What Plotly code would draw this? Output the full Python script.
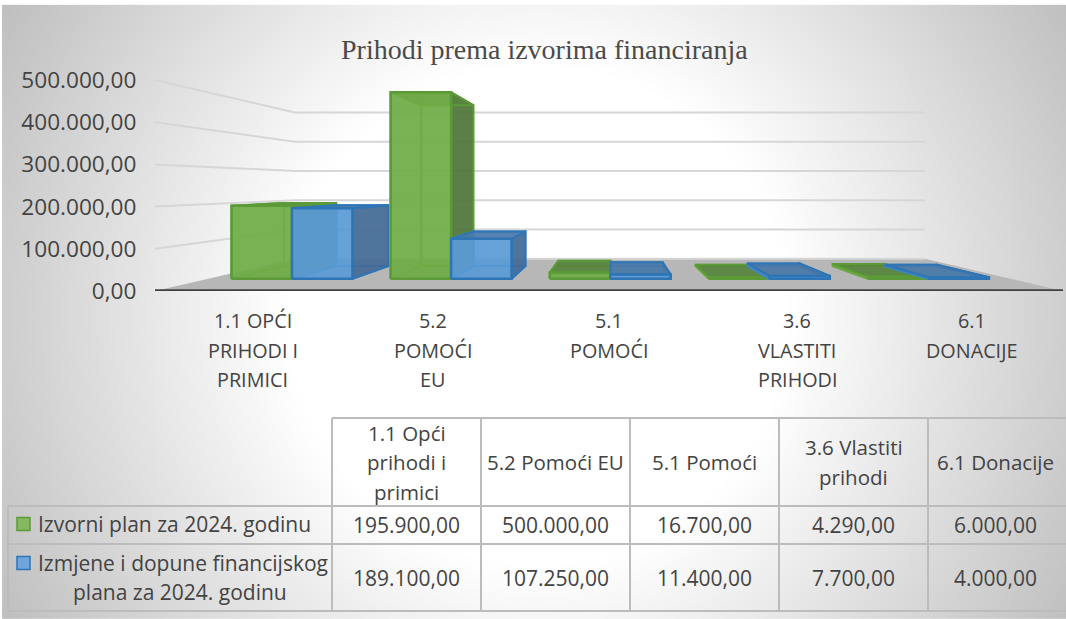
import numpy as np
import plotly.graph_objects as go

# ---- data ----
title = "Prihodi prema izvorima financiranja"
series_names = ["Izvorni plan za 2024. godinu", "Izmjene i dopune financijskog plana za 2024. godinu"]
plan_2024 = [195900, 500000, 16700, 4290, 6000]
izmjene_2024 = [189100, 107250, 11400, 7700, 4000]
axis_labels = [["1.1 OPĆI", "PRIHODI I", "PRIMICI"], ["5.2", "POMOĆI", "EU"], ["5.1", "POMOĆI"],
               ["3.6", "VLASTITI", "PRIHODI"], ["6.1", "DONACIJE"]]
table_headers = [["1.1 Opći", "prihodi i", "primici"], ["5.2 Pomoći EU"], ["5.1 Pomoći"],
                 ["3.6 Vlastiti", "prihodi"], ["6.1 Donacije"]]
legend_lines = [["Izvorni plan za 2024. godinu"], ["Izmjene i dopune financijskog", "plana za 2024. godinu"]]
y_ticks = [0, 100000, 200000, 300000, 400000, 500000]

# ---- layout constants ----
W, H = 1066, 619
FONT = "Open Sans"
TXT = "#434343"
PX_L, PX_R, PX_B, PX_T = 155, 1063, 291, 80   # front plane of the 3D box in pixels
CAT0, STEP = 250, 180                          # pixel of category 0 and category step on the front plane
X_RANGE = [(PX_L - CAT0) / STEP, (PX_R - CAT0) / STEP]
VP_X = (612 - CAT0) / STEP                     # vanishing point in axis units
VP_Y = (PX_B - 186) / (PX_B - PX_T) * 500000
S_BACK = 0.694                                 # perspective scale of the back wall
S_BAR_F, S_BAR_B = 0.884, 0.762                # front / back of the columns
BAR_W = 0.38
LABEL_NUDGE = [0.015, 0.015, -0.005, 0.04, 0.01]


def proj(x, v, s):
    return VP_X + (x - VP_X) * s, VP_Y + (v - VP_Y) * s


def px(x):
    return x / W


def py(y):
    return 1 - y / H


fig = go.Figure()

# background radial gradient
gx = np.linspace(8, W, 90)
gy = np.linspace(10, H, 60)
dist = np.hypot(*np.meshgrid(gx - 537, gy - 315))
gray = np.clip(255 - 0.175 * (dist - 250), 0, 255)
fig.add_trace(go.Heatmap(x=gx, y=gy, z=gray, zmin=0, zmax=255, zsmooth="best", showscale=False,
                         colorscale=[[0, "#000000"], [1, "#ffffff"]], hoverinfo="skip",
                         xaxis="x", yaxis="y"))


def poly(pts, fill, line, width=2, name=""):
    xs = [p[0] for p in pts] + [pts[0][0]]
    ys = [p[1] for p in pts] + [pts[0][1]]
    fig.add_trace(go.Scatter(x=xs, y=ys, mode="lines", fill="toself", fillcolor=fill,
                             line=dict(color=line, width=width), xaxis="x2", yaxis="y2",
                             showlegend=False, hoverinfo="skip", name=name))


# floor
poly([proj(X_RANGE[0], 0, 1), proj(X_RANGE[1], 0, 1), proj(X_RANGE[1], 0, S_BACK), proj(X_RANGE[0], 0, S_BACK)],
     "#b7b7b7", "rgba(0,0,0,0)", 0)

# gridlines: side wall + back wall
for v in y_ticks:
    a = proj(X_RANGE[0], v, 1)
    b = proj(X_RANGE[0], v, S_BACK)
    c = proj(X_RANGE[1], v, S_BACK)
    if v == 0:
        xs, ys = [b[0], c[0]], [b[1], c[1]]
    else:
        xs, ys = [a[0], b[0], c[0]], [a[1], b[1], c[1]]
    fig.add_trace(go.Scatter(x=xs, y=ys, mode="lines", line=dict(color="#d6d6d6", width=2),
                             xaxis="x2", yaxis="y2", showlegend=False, hoverinfo="skip"))

# front axis line
fig.add_trace(go.Scatter(x=X_RANGE, y=[0, 0], mode="lines", line=dict(color="#404040", width=3.5),
                         xaxis="x2", yaxis="y2", showlegend=False, hoverinfo="skip"))

STYLES = [
    dict(front="rgba(112,173,71,0.85)", back="rgba(112,173,71,0.55)", side="rgba(78,115,58,0.88)",
         top="rgba(88,130,62,0.88)", edge="#5c9a38", inner="#6da845"),
    dict(front="rgba(91,155,213,0.85)", back="rgba(91,155,213,0.55)", side="rgba(68,105,145,0.88)",
         top="rgba(74,120,165,0.88)", edge="#2e75b6", inner="#3f86c8"),
]

# columns
for i in range(len(plan_2024)):
    for k, vals in enumerate([plan_2024, izmjene_2024]):
        st = STYLES[k]
        v = vals[i]
        x0 = i - BAR_W + k * BAR_W
        x1 = x0 + BAR_W
        f = S_BAR_F
        b = S_BAR_B
        nm = series_names[k]
        poly([proj(x0, 0, b), proj(x1, 0, b), proj(x1, v, b), proj(x0, v, b)], st["back"], st["inner"], 2, nm)
        poly([proj(x0, 0, f), proj(x1, 0, f), proj(x1, 0, b), proj(x0, 0, b)], st["back"], st["inner"], 2, nm)
        poly([proj(x0, 0, f), proj(x0, v, f), proj(x0, v, b), proj(x0, 0, b)], st["back"], st["inner"], 2, nm)
        poly([proj(x1, 0, f), proj(x1, v, f), proj(x1, v, b), proj(x1, 0, b)], st["side"], st["edge"], 2, nm)
        poly([proj(x0, v, f), proj(x1, v, f), proj(x1, v, b), proj(x0, v, b)], st["top"], st["edge"], 2, nm)
        poly([proj(x0, 0, f), proj(x1, 0, f), proj(x1, v, f), proj(x0, v, f)], st["front"], st["edge"], 2.5, nm)

annotations = []


def label(x, y, text, size=18, anchor="center", xref="paper", color=TXT, family=FONT):
    annotations.append(dict(x=x, y=py(y), xref=xref, yref="paper", text=text, showarrow=False,
                            xanchor=anchor, yanchor="middle", font=dict(family=family, size=size, color=color)))


# category labels (one annotation per line for the wide Office line spacing)
LINE_Y = [320, 350, 380]
for i, lines in enumerate(axis_labels):
    for j, t in enumerate(lines):
        label(i + LABEL_NUDGE[i], LINE_Y[j], t, xref="x2", size=19.8)


def fmt(v):
    return f"{v:,.2f}".replace(",", "#").replace(".", ",").replace("#", ".")


# data table
COLS = [332, 481, 630, 779, 928, 1066]
ROWS = [418, 506, 544, 611]
LEFT = 8
shapes = []


def seg(x0, y0, x1, y1):
    shapes.append(dict(type="line", xref="paper", yref="paper", x0=px(x0), y0=py(y0), x1=px(x1), y1=py(y1),
                       line=dict(color="#bcbcbc", width=2)))


seg(COLS[0], ROWS[0], W, ROWS[0])
for r in ROWS[1:]:
    seg(LEFT, r, W, r)
seg(LEFT, ROWS[1], LEFT, ROWS[3])
for c in COLS[:-1]:
    seg(c, ROWS[0], c, ROWS[3])

for n, lines in enumerate(table_headers):
    cx = (COLS[n] + COLS[n + 1]) / 2
    cy = (ROWS[0] + ROWS[1]) / 2
    for j, t in enumerate(lines):
        label(px(cx - (2 if n == 4 else 0)), cy + (j - (len(lines) - 1) / 2) * 29.5, t, size=20.5)
    for r, vals in enumerate([plan_2024, izmjene_2024]):
        label(px(cx - (2 if n == 4 else 0)), (ROWS[r + 1] + ROWS[r + 2]) / 2, fmt(vals[n]), size=21)

# legend keys + row headers
KEY_Y = [524, 563]
KEY_FILL = ["#84b962", "#6ea6dc"]
KEY_EDGE = ["#5c9a38", "#2e75b6"]
for r in range(2):
    shapes.append(dict(type="rect", xref="paper", yref="paper", x0=px(17), x1=px(30), y0=py(KEY_Y[r] - 6.5),
                       y1=py(KEY_Y[r] + 6.5), fillcolor=KEY_FILL[r], line=dict(color=KEY_EDGE[r], width=1.5)))
label(px(36), 524, legend_lines[0][0], anchor="left", size=21)
label(px(36), 563, legend_lines[1][0], anchor="left", size=21)
label(px(180), 592, legend_lines[1][1], size=21)

# title
label(px(544), 50, title, size=28, family="Liberation Serif", color="#4a4a4a")

fig.update_layout(
    width=W, height=H, margin=dict(l=0, r=0, t=0, b=0, autoexpand=False), autosize=False,
    paper_bgcolor="#ffffff", plot_bgcolor="rgba(0,0,0,0)", showlegend=False,
    separators=",.",
    xaxis=dict(domain=[0, 1], range=[0, W], visible=False, fixedrange=True, automargin=False),
    yaxis=dict(domain=[0, 1], range=[H, 0], visible=False, fixedrange=True, automargin=False),
    xaxis2=dict(domain=[px(PX_L), px(PX_R)], range=X_RANGE, anchor="y2", showgrid=False, zeroline=False,
                showline=False, showticklabels=False, ticks="", fixedrange=True, automargin=False),
    yaxis2=dict(domain=[py(PX_B), py(PX_T)], range=[0, 500000], anchor="x2", tickvals=y_ticks,
                tickformat=",.2f", showgrid=False, zeroline=False, showline=False, automargin=False,
                ticks="outside", ticklen=13, tickcolor="rgba(0,0,0,0)",
                tickfont=dict(family=FONT, size=22.6, color=TXT), fixedrange=True),
    annotations=annotations, shapes=shapes,
)

fig.write_html("out.html", config=dict(displayModeBar=False),
               post_script="document.body.style.margin='0';document.body.style.overflow='hidden';")
